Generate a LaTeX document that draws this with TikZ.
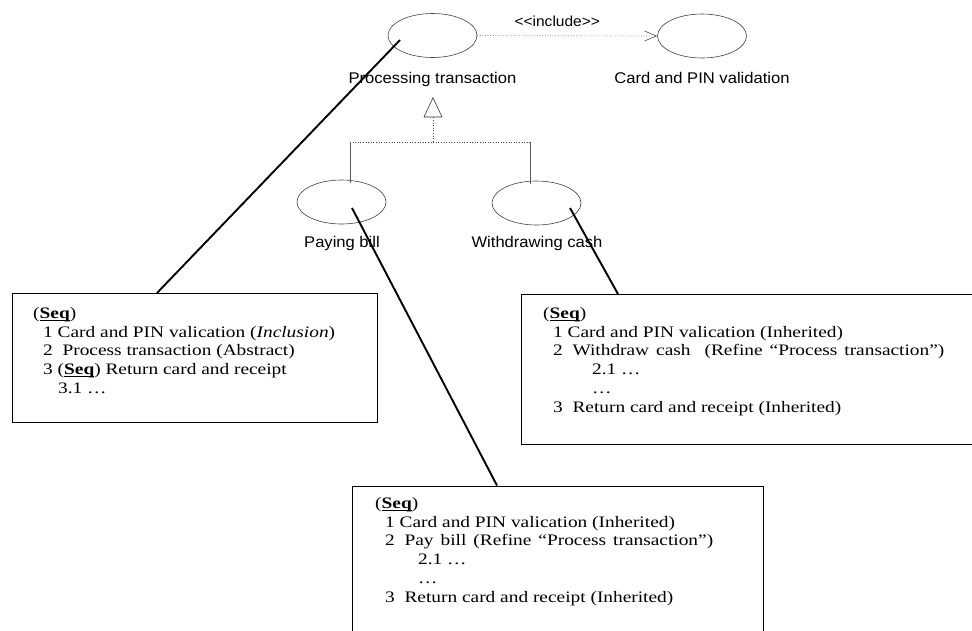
\documentclass[tikz,border=0pt]{standalone}
\usepackage{fontspec}
\setmainfont{Liberation Serif}[FakeStretch=1.21]
\newfontfamily\labelfont{Liberation Sans}[FakeStretch=1.07]
\usetikzlibrary{shapes.geometric,arrows.meta,calc}

\tikzset{
  usecase/.style={ellipse, draw=black!75, line width=0.6pt, minimum width=89pt,
    minimum height=44pt, inner sep=0pt},
  uclabel/.style={font=\labelfont\fontsize{15.5}{18}\selectfont, anchor=base, inner sep=0pt},
  dep/.style={draw=black!70, line width=0.6pt, dotted},
  genline/.style={draw=black!65, line width=0.6pt},
  notebox/.style={draw=black, line width=1.3pt, rectangle, inner sep=0pt},
  notetext/.style={anchor=north west, align=left, inner sep=0pt,
    font=\fontsize{16}{18.8}\selectfont},
  callout/.style={draw=black, line width=1.9pt}
}
% bold, underlined "Seq" keyword
\newsavebox{\seqbox}
\newcommand{\seqmark}{\sbox{\seqbox}{\textbf{Seq}}%
  \rlap{\rule[-2.4pt]{\wd\seqbox}{0.9pt}}\usebox{\seqbox}}
% wider word spacing for the refinement lines
\newcommand{\widespaces}{\spaceskip=7pt plus 1pt\relax}

\begin{document}
\begin{tikzpicture}[x=1pt, y=-1pt]
  \useasboundingbox (0,0) rectangle (972,630);
  \clip (0,0) rectangle (972,630);

  % use cases
  \node[usecase] (pt)  at (432.5,35.5) {};
  \node[usecase] (cpv) at (702,36)   {};
  \node[usecase] (pb)  at (341.5,202) {};
  \node[usecase] (wc)  at (536.5,203) {};

  \node[uclabel] (ptl)  at (432.5,83)  {Processing transaction};
  \node[uclabel] (cpvl) at (702,83)    {Card and PIN validation};
  \node[uclabel] (pbl)  at (342,247)   {Paying bill};
  \node[uclabel] (wcl)  at (537,247)   {Withdrawing cash};

  % include dependency
  \draw[dep, -{Straight Barb[length=12pt, width=10pt]}] (pt.east) -- (cpv.west)
    node[midway, above=9pt, font=\labelfont\fontsize{14.5}{16}\selectfont, inner sep=0pt, xshift=-10pt] (incl) {<{}<include>{}>};

  % generalization
  \node[isosceles triangle, shape border rotate=90, draw=black!80, line width=0.6pt,
        minimum height=19pt, minimum width=18pt, isosceles triangle apex angle=50,
        inner sep=0pt, anchor=apex] (gen) at (433,97) {};
  \coordinate (joint) at (433,142);
  \coordinate (jl) at (350,142);
  \coordinate (jr) at (530,142);
  \draw[dep] (gen.south) -- (joint);
  \draw[dep] (jl) -- (jr);
  \draw[genline] (jl) -- (350,182.5);
  \draw[genline] (jr) -- (530,183.5);

  % notes
  \node[notebox, minimum width=365pt, minimum height=129pt, anchor=north west] (nl) at (12,293) {};
  \node[notebox, minimum width=470pt, minimum height=150pt, anchor=north west] (nr) at (521,294) {};
  \node[notebox, minimum width=411pt, minimum height=170pt, anchor=north west] (nb) at (352,485.5) {};

  \node[notetext] (tl) at (33,307) {(\seqmark)\\
    \hspace*{10pt}1 Card and PIN valication (\textit{Inclusion})\\
    \hspace*{10pt}2~ Process transaction (Abstract)\\
    \hspace*{10pt}3 (\seqmark) Return card and receipt\\
    \hspace*{25pt}3.1 \ldots};

  \node[notetext] (tr) at (543,307) {(\seqmark)\\
    \hspace*{10pt}1 Card and PIN valication (Inherited)\\
    \hspace*{10pt}2~ {\widespaces Withdraw cash~ (Refine ``Process transaction'')}\\
    \hspace*{49pt}2.1 \ldots\\
    \hspace*{49pt}\ldots\\
    \hspace*{10pt}3~ Return card and receipt (Inherited)};

  \node[notetext] (tb) at (375,497) {(\seqmark)\\
    \hspace*{10pt}1 Card and PIN valication (Inherited)\\
    \hspace*{10pt}2~ {\widespaces Pay bill (Refine ``Process transaction'')}\\
    \hspace*{43pt}2.1 \ldots\\
    \hspace*{43pt}\ldots\\
    \hspace*{10pt}3~ Return card and receipt (Inherited)};

  % note attachments
  \coordinate (ptin) at ($(pt.center)+(-32.5,4.5)$);
  \coordinate (pbin) at ($(pb.center)+(10.5,6)$);
  \coordinate (wcin) at ($(wc.center)+(33.5,5)$);
  \draw[callout] (ptin) -- ($(nl.north west)+(145,0)$);
  \draw[callout] (pbin) -- ($(nb.north west)+(145,0)$);
  \draw[callout] (wcin) -- ($(nr.north west)+(97,0)$);
\end{tikzpicture}
\end{document}
